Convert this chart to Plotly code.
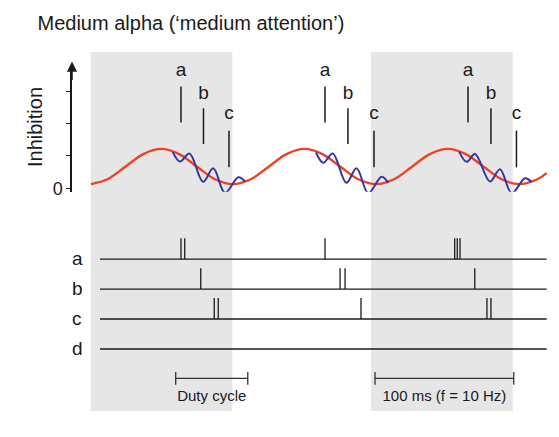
import plotly.graph_objects as go

# ---------------- data ----------------
# alpha (10 Hz) inhibition wave: time (ms) and inhibition level (a.u.)
alpha_t = [0, 11.5, 24, 36.5, 49, 61.5, 74, 86.5, 99, 111.5, 124, 136.5, 149,
           161.5, 174, 186.5, 199, 211.5, 224, 236.5, 249, 261.5, 274, 286.5,
           299, 311.5, 318]
alpha_y = [0.12, 0.27, 0.66, 1.05, 1.21, 1.05, 0.66, 0.27, 0.12, 0.27, 0.66,
           1.05, 1.21, 1.05, 0.66, 0.27, 0.12, 0.27, 0.66, 1.05, 1.21, 1.05,
           0.66, 0.27, 0.12, 0.27, 0.46]

# gamma bursts riding on the alpha wave (one per alpha cycle)
gamma1_t = [57.0, 62.1, 68.7, 78.2, 85.3, 93.5, 102.8, 107.5]
gamma1_y = [1.12, 0.82, 1.07, 0.19, 0.61, -0.15, 0.33, 0.20]
gamma2_t = [157.0, 162.1, 168.7, 178.2, 185.3, 193.5, 202.8, 207.5]
gamma2_y = [1.10, 0.78, 1.07, 0.16, 0.61, -0.16, 0.35, 0.16]
gamma3_t = [257.0, 262.2, 268.0, 278.4, 285.4, 293.6, 302.9, 307.5]
gamma3_y = [1.12, 0.81, 1.05, 0.20, 0.58, -0.16, 0.30, 0.18]

# a, b, c threshold marks above the waves
mark_names = ["a", "b", "c"]
mark_times = [[62.8, 163.3, 263.1], [78.5, 179.3, 279.1], [96.3, 197.5, 296.9]]
mark_low = [2.03, 1.36, 0.64]
mark_high = [3.14, 2.47, 1.77]
mark_label_y = [3.60, 2.91, 2.27]

# spike rasters
rows = ["a", "b", "c", "d"]
row_level = [3, 2, 1, 0]
spikes_a = [62.8, 65.4, 163.3, 253.8, 255.6, 257.5]
spikes_b = [76.6, 173.8, 177.3, 267.8]
spikes_c = [86.0, 88.8, 188.4, 276.3, 279.1]
spikes_d = []
raster_span = [6.3, 318.0]

# shaded windows (ms)
shade_start = [-0.2, 195.4]
shade_end = [98.6, 294.3]

# scale bars (ms)
duty_bar = [59.1, 109.4]
period_bar = [198.2, 295.0]
bar_labels = ["Duty cycle", "100 ms (f = 10 Hz)"]

inhib_ticks = [0, 1, 2, 3]
inhib_ticktext = ["0", "", "", ""]

# ---------------- geometry / style ----------------
# targets are given in window pixels; the page places the figure 8 px in
OFF = 8
WIN_W, WIN_H = 559, 437
W, H = WIN_W - OFF, WIN_H - OFF
PLOT_X0, PLOT_X1 = 72, 552      # window px
PLOT_Y0, PLOT_Y1 = 52, 411      # window px
L, R = PLOT_X0 - OFF, WIN_W - PLOT_X1
T, B = PLOT_Y0 - OFF, WIN_H - PLOT_Y1
PW, PH = PLOT_X1 - PLOT_X0, PLOT_Y1 - PLOT_Y0
PX_PER_MS = 1.433
T0_PX = 91.0


def py2paper(py):
    return (PLOT_Y1 - py) / PH


def px2paper(px):
    return (px - PLOT_X0) / PW


ZERO_PX, UNIT_PX = 188.0, 32.3
Y_BOT_PX, Y_TOP_PX = 191.7, 66.0
ROW0_PX, ROW_PX = 349.0, 29.95
Y2_TOP_PX = 226.0
SPIKE_H = 0.7
BAR_LEVEL = -0.98
BAR_LABEL_LEVEL = -1.6

RED = "#ef4124"
BLUE = "#3537a3"
INK = "#1a1a1a"
FONT = "Liberation Sans, Arial, Helvetica, sans-serif"

fig = go.Figure()

# alpha wave
fig.add_trace(go.Scatter(x=alpha_t, y=alpha_y, mode="lines",
                         line=dict(color=RED, width=2.4, shape="spline", smoothing=1),
                         hoverinfo="skip", showlegend=False))

# gamma bursts
gx, gy = [], []
for tt, yy in [(gamma1_t, gamma1_y), (gamma2_t, gamma2_y), (gamma3_t, gamma3_y)]:
    gx += tt + [None]
    gy += yy + [None]
fig.add_trace(go.Scatter(x=gx, y=gy, mode="lines",
                         line=dict(color=BLUE, width=2.0, shape="spline", smoothing=1),
                         hoverinfo="skip", showlegend=False))

# threshold marks
mx, my, lx, ly, lt = [], [], [], [], []
for name, times, lo, hi, lyv in zip(mark_names, mark_times, mark_low, mark_high, mark_label_y):
    for t in times:
        mx += [t, t, None]
        my += [lo, hi, None]
        lx.append(t)
        ly.append(lyv)
        lt.append(name)
fig.add_trace(go.Scatter(x=mx, y=my, mode="lines", line=dict(color=INK, width=1.5),
                         hoverinfo="skip", showlegend=False))
fig.add_trace(go.Scatter(x=lx, y=ly, mode="text", text=lt, textposition="middle center",
                         textfont=dict(family=FONT, size=19, color=INK),
                         cliponaxis=False, hoverinfo="skip", showlegend=False))

# raster baselines and spikes
rx, ry, sx, sy = [], [], [], []
for lvl, spikes in zip(row_level, [spikes_a, spikes_b, spikes_c, spikes_d]):
    rx += [raster_span[0], raster_span[1], None]
    ry += [lvl, lvl, None]
    for s in spikes:
        sx += [s, s, None]
        sy += [lvl, lvl + SPIKE_H, None]
fig.add_trace(go.Scatter(x=rx, y=ry, yaxis="y2", mode="lines",
                         line=dict(color=INK, width=1.4),
                         hoverinfo="skip", showlegend=False))
fig.add_trace(go.Scatter(x=sx, y=sy, yaxis="y2", mode="lines",
                         line=dict(color=INK, width=1.3),
                         hoverinfo="skip", showlegend=False))

# scale bars
for bar, label in zip([duty_bar, period_bar], bar_labels):
    fig.add_trace(go.Scatter(x=bar, y=[BAR_LEVEL, BAR_LEVEL], yaxis="y2",
                             mode="lines+markers",
                             line=dict(color="#333333", width=1.2),
                             marker=dict(symbol="line-ns", size=9,
                                         line=dict(width=1.3, color="#333333")),
                             hoverinfo="skip", showlegend=False))
    fig.add_trace(go.Scatter(x=[(bar[0] + bar[1]) / 2], y=[BAR_LABEL_LEVEL], yaxis="y2",
                             mode="text", text=[label], textposition="middle center",
                             textfont=dict(family=FONT, size=15, color=INK),
                             cliponaxis=False, hoverinfo="skip", showlegend=False))

shapes = []
for s0, s1 in zip(shade_start, shade_end):
    shapes.append(dict(type="rect", xref="x", yref="paper", x0=s0, x1=s1, y0=0, y1=1,
                       fillcolor="#e6e6e6", line=dict(width=0), layer="below"))

annotations = [
    dict(text="Inhibition", textangle=-90, xref="paper", yref="paper",
         x=px2paper(35), y=py2paper(127), showarrow=False,
         font=dict(family=FONT, size=20, color=INK), xanchor="center", yanchor="middle"),
    dict(text="", xref="paper", yref="paper", x=0, y=py2paper(61.5),
         showarrow=True, ax=0, ay=20, arrowhead=2, arrowsize=1.35, arrowwidth=1.5,
         arrowcolor=INK),
]

fig.update_layout(
    width=W, height=H,
    margin=dict(l=L, r=R, t=T, b=B),
    paper_bgcolor="white",
    plot_bgcolor="rgba(0,0,0,0)",
    font=dict(family=FONT, color=INK),
    title=dict(text="Medium alpha (\u2018medium attention\u2019)",
               xref="container", yref="container",
               x=(37.5 - OFF) / W, y=1 - (22.5 - OFF) / H,
               xanchor="left", yanchor="middle",
               font=dict(family=FONT, size=20, color=INK)),
    xaxis=dict(range=[(PLOT_X0 - T0_PX) / PX_PER_MS, (PLOT_X1 - T0_PX) / PX_PER_MS],
               visible=False, anchor="y"),
    yaxis=dict(domain=[py2paper(Y_BOT_PX), py2paper(Y_TOP_PX)],
               range=[(ZERO_PX - Y_BOT_PX) / UNIT_PX, (ZERO_PX - Y_TOP_PX) / UNIT_PX],
               anchor="x", showline=True, linecolor=INK, linewidth=1.5,
               ticks="outside", ticklen=4, tickwidth=1.2, tickcolor=INK,
               tickvals=inhib_ticks, ticktext=inhib_ticktext,
               tickfont=dict(family=FONT, size=18, color=INK), ticklabelshift=1,
               showgrid=False, zeroline=False),
    yaxis2=dict(domain=[0, py2paper(Y2_TOP_PX)],
                range=[(ROW0_PX - PLOT_Y1) / ROW_PX, (ROW0_PX - Y2_TOP_PX) / ROW_PX],
                anchor="x", showline=False, ticks="",
                tickvals=row_level, ticktext=rows, ticklabelposition="inside",
                ticklabelstandoff=-3,
                tickfont=dict(family=FONT, size=19, color=INK), ticklabelshift=-1,
                showgrid=False, zeroline=False),
    shapes=shapes,
    annotations=annotations,
)

fig.write_html("out.html")
